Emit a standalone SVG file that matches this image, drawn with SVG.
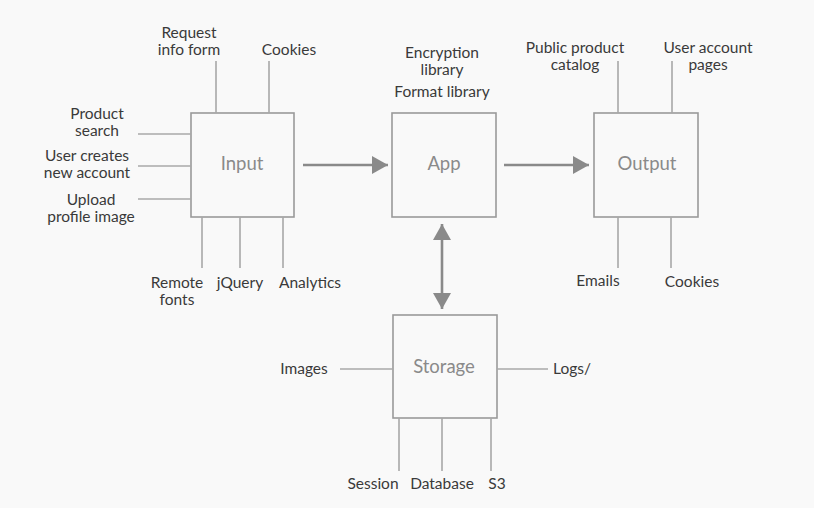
<svg xmlns="http://www.w3.org/2000/svg" width="814" height="508" viewBox="0 0 814 508">
<defs>
<style>
.box{fill:none;stroke:#9a9a9a;stroke-width:1.6}
.ln{stroke:#a8a8a8;stroke-width:1.6;fill:none}
.arr{stroke:#8a8a8a;stroke-width:2.6;fill:none}
.lbl{font-family:Lato,"Noto Sans",sans-serif;font-size:15.5px;fill:#3a3a3a;text-anchor:middle}
.nm{font-family:Lato,"Noto Sans",sans-serif;font-size:18.5px;fill:#8a8a8a;text-anchor:middle}
</style>
<marker id="ah" viewBox="0 0 16 18" refX="16" refY="9" markerWidth="16" markerHeight="18" markerUnits="userSpaceOnUse" orient="auto-start-reverse">
<path d="M0,0 L16,9 L0,18 Z" fill="#8a8a8a"/>
</marker>
</defs>
<rect width="814" height="508" fill="#f9f9f9"/>
<g id="connectors">
<line class="arr" x1="303" y1="165" x2="388" y2="165" marker-end="url(#ah)"/>
<line class="arr" x1="504" y1="165" x2="589" y2="165" marker-end="url(#ah)"/>
<line class="arr" x1="442" y1="224" x2="442" y2="309" marker-start="url(#ah)" marker-end="url(#ah)"/>
</g>
<g id="input">
<rect class="box" x="191" y="113" width="103" height="104"/>
<text class="nm" x="242" y="170">Input</text>
<line class="ln" x1="216" y1="61" x2="216" y2="113"/>
<line class="ln" x1="269" y1="61" x2="269" y2="113"/>
<line class="ln" x1="138" y1="134" x2="191" y2="134"/>
<line class="ln" x1="138" y1="166" x2="191" y2="166"/>
<line class="ln" x1="138" y1="199" x2="191" y2="199"/>
<line class="ln" x1="202" y1="217" x2="202" y2="268"/>
<line class="ln" x1="240" y1="217" x2="240" y2="268"/>
<line class="ln" x1="283" y1="217" x2="283" y2="268"/>
<text class="lbl" x="189" y="38">Request</text>
<text class="lbl" x="189" y="55">info form</text>
<text class="lbl" x="289" y="55">Cookies</text>
<text class="lbl" x="97" y="119">Product</text>
<text class="lbl" x="97" y="136">search</text>
<text class="lbl" x="87" y="161">User creates</text>
<text class="lbl" x="87" y="178">new account</text>
<text class="lbl" x="91" y="205">Upload</text>
<text class="lbl" x="91" y="222">profile image</text>
<text class="lbl" x="177" y="288">Remote</text>
<text class="lbl" x="177" y="305">fonts</text>
<text class="lbl" x="240" y="288">jQuery</text>
<text class="lbl" x="310" y="288">Analytics</text>
</g>
<g id="app">
<rect class="box" x="392" y="113" width="104" height="104"/>
<text class="nm" x="444" y="170">App</text>
<text class="lbl" x="442" y="58">Encryption</text>
<text class="lbl" x="442" y="75">library</text>
<text class="lbl" x="442" y="97">Format library</text>
</g>
<g id="output">
<rect class="box" x="594" y="113" width="104" height="104"/>
<text class="nm" x="647" y="170">Output</text>
<line class="ln" x1="618" y1="61" x2="618" y2="113"/>
<line class="ln" x1="672" y1="61" x2="672" y2="113"/>
<line class="ln" x1="618" y1="217" x2="618" y2="268"/>
<line class="ln" x1="671" y1="217" x2="671" y2="268"/>
<text class="lbl" x="575" y="53">Public product</text>
<text class="lbl" x="575" y="70">catalog</text>
<text class="lbl" x="708" y="53">User account</text>
<text class="lbl" x="708" y="70">pages</text>
<text class="lbl" x="598" y="286">Emails</text>
<text class="lbl" x="692" y="287">Cookies</text>
</g>
<g id="storage">
<rect class="box" x="393" y="315" width="104" height="103"/>
<text class="nm" x="444" y="373">Storage</text>
<line class="ln" x1="340" y1="369" x2="393" y2="369"/>
<line class="ln" x1="497" y1="369" x2="548" y2="369"/>
<line class="ln" x1="399" y1="418" x2="399" y2="471"/>
<line class="ln" x1="442" y1="418" x2="442" y2="471"/>
<line class="ln" x1="491" y1="418" x2="491" y2="471"/>
<text class="lbl" x="304" y="374">Images</text>
<text class="lbl" x="553" y="374" style="text-anchor:start">Logs/</text>
<text class="lbl" x="373" y="489">Session</text>
<text class="lbl" x="442" y="489">Database</text>
<text class="lbl" x="497" y="489">S3</text>
</g>
</svg>
